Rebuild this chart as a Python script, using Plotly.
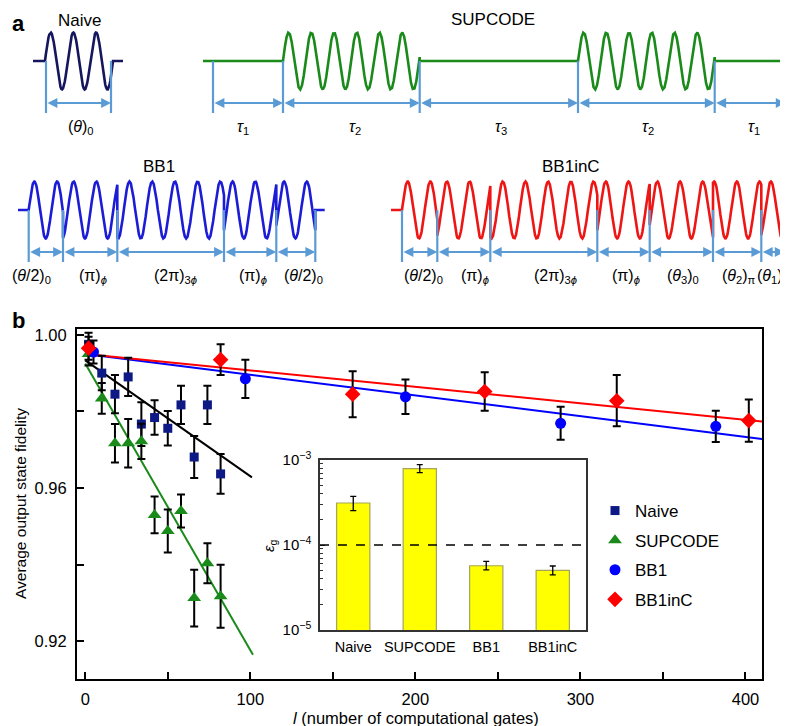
import numpy as np
import plotly.graph_objects as go

# ---------------- Panel b data ----------------
naive_l = [2, 10, 18, 26, 34, 42, 50, 58, 66, 74, 82]
naive_F = [0.9975, 0.9900, 0.9845, 0.9890, 0.9767, 0.9784, 0.9756, 0.9817, 0.9681, 0.9817, 0.9637]
naive_err = [0.0030, 0.0045, 0.0050, 0.0050, 0.0057, 0.0045, 0.0045, 0.0050, 0.0055, 0.0050, 0.0052]

sup_l = [2, 10, 18, 26, 34, 42, 50, 58, 66, 74, 82]
sup_F = [0.9950, 0.9834, 0.9717, 0.9717, 0.9722, 0.9530, 0.9488, 0.9540, 0.9313, 0.9404, 0.9318]
sup_err = [0.0030, 0.0040, 0.0050, 0.0063, 0.0046, 0.0048, 0.0056, 0.0043, 0.0074, 0.0052, 0.0082]

bb1_l = [5, 97, 194, 288, 382]
bb1_F = [0.9955, 0.9885, 0.9838, 0.9769, 0.9761]
bb1_err = [0.0030, 0.0050, 0.0045, 0.0043, 0.0041]

bb1c_l = [2, 82, 162, 242, 322, 402]
bb1c_F = [0.9965, 0.9935, 0.9845, 0.9852, 0.9828, 0.9776]
bb1c_err = [0.0030, 0.0040, 0.0060, 0.0050, 0.0067, 0.0055]

naive_fit_l = [0, 101]
naive_fit_F = [0.9933, 0.9628]
sup_fit_l = [0, 101.6]
sup_fit_F = [0.9925, 0.9165]
bb1_fit_l = [0, 410]
bb1_fit_F = [0.9950, 0.9728]
bb1c_fit_l = [0, 410]
bb1c_fit_F = [0.9950, 0.9774]

x_tickvals = [0, 50, 100, 150, 200, 250, 300, 350, 400]
x_ticktext = ["0", "", "100", "", "200", "", "300", "", "400"]
y_tickvals = [0.92, 0.94, 0.96, 0.98, 1.00]
y_ticktext = ["0.92", "", "0.96", "", "1.00"]

# Inset data
inset_cats = ["Naive", "SUPCODE", "BB1", "BB1inC"]
inset_eps = [3.12e-4, 7.9e-4, 5.7e-5, 5.04e-5]
inset_err_plus = [0.62e-4, 0.9e-4, 0.7e-5, 0.62e-5]
inset_err_minus = [0.58e-4, 0.8e-4, 0.6e-5, 0.6e-5]
threshold = [1e-4]
inset_tickvals = [1e-5, 1e-4, 1e-3]
inset_ticktext = ["10<sup>−5</sup>", "10<sup>−4</sup>", "10<sup>−3</sup>"]
inset_minor = [k * 10.0 ** e for e in (-5, -4) for k in range(2, 10)]

# ---------------- Panel a schematic data ----------------
PHI = 0.54 * np.pi
naive_blocks = [dict(edges=[37, 105], phases=[0])]
naive_flat = (25, 115)
naive_marks = [38, 103]
naive_labels = ["(<i>θ</i>)<sub>0</sub>"]
naive_label_x = [73]

sup_blocks = [dict(edges=[275, 411.7], phases=[0]), dict(edges=[570, 706.7], phases=[0])]
sup_flat = (195, 787)
sup_marks = [205, 275, 411.7, 570, 706.7, 777.7]
sup_labels = ["<i>τ</i><sub>1</sub>", "<i>τ</i><sub>2</sub>", "<i>τ</i><sub>3</sub>",
              "<i>τ</i><sub>2</sub>", "<i>τ</i><sub>1</sub>"]
sup_label_x = [235, 347, 493, 640, 746]

bb1_blocks = [dict(edges=[20.7, 55, 109.3, 216, 268.3, 307.3], phases=[0, PHI, 3 * PHI, PHI, 0])]
bb1_flat = (10, 316.7)
bb1_marks = [20.7, 55, 109.3, 216, 268.3, 307.3]
bb1_labels = ["(<i>θ</i>/2)<sub>0</sub>", "(π)<sub><i>ϕ</i></sub>", "(2π)<sub>3<i>ϕ</i></sub>",
              "(π)<sub><i>ϕ</i></sub>", "(<i>θ</i>/2)<sub>0</sub>"]
bb1_label_x = [23.5, 85, 167, 245, 295]

bb1c_blocks = [dict(edges=[394, 429.3, 482.3, 589.3, 641.7, 705, 753.3, 776.7],
                    phases=[0, PHI, 3 * PHI, PHI, 0, np.pi, 0])]
bb1c_flat = (383, 787)
bb1c_marks = [394, 429.3, 482.3, 589.3, 641.7, 705, 753.3, 776.7]
bb1c_labels = ["(<i>θ</i>/2)<sub>0</sub>", "(π)<sub><i>ϕ</i></sub>", "(2π)<sub>3<i>ϕ</i></sub>",
               "(π)<sub><i>ϕ</i></sub>", "(<i>θ</i><sub>3</sub>)<sub>0</sub>",
               "(<i>θ</i><sub>2</sub>)<sub>π</sub>", "(<i>θ</i><sub>1</sub>)<sub>0</sub>"]
bb1c_label_x = [415, 467, 547, 618, 675, 731, 765]

PERIOD = 22.7
AMP = 28.5

W, H = 788, 726
FONT = "Liberation Sans, Arial, Helvetica, sans-serif"
LB = "#5b9bd5"
NAVY = "#0d1a86"
GREEN = "#1a8a1a"
BLUE = "#0000ff"
RED = "#ff0000"


def px(p):
    return p / W


def py(p):
    return 1 - p / H


def waveform(flat, blocks, yc):
    xs = [flat[0]]
    ys = [yc]
    for blk in blocks:
        e = blk["edges"]
        x0 = e[0]
        xs.append(x0)
        ys.append(yc)
        for a, b, ph in zip(e[:-1], e[1:], blk["phases"]):
            x = np.linspace(a, b, 80)
            xs += x.tolist()
            ys += (yc - AMP * np.sin(2 * np.pi * (x - x0) / PERIOD + ph)).tolist()
        xs.append(e[-1])
        ys.append(yc)
    xs.append(flat[1])
    ys.append(yc)
    return xs, ys


fig = go.Figure()

# ---------------- Panel a ----------------
diagrams = [
    (naive_flat, naive_blocks, naive_marks, naive_labels, naive_label_x, 53, "#16165e", "Naive", 71, 12),
    (sup_flat, sup_blocks, sup_marks, sup_labels, sup_label_x, 53, GREEN, "SUPCODE", 485, 11),
    (bb1_flat, bb1_blocks, bb1_marks, bb1_labels, bb1_label_x, 202, "#1c1cd6", "BB1", 151, 158),
    (bb1c_flat, bb1c_blocks, bb1c_marks, bb1c_labels, bb1c_label_x, 202, "#ee1515", "BB1inC", 563, 158),
]
for flat, blocks, marks, labels, label_x, yc, col, title, tx, ty in diagrams:
    wx, wy = waveform(flat, blocks, yc)
    fig.add_trace(go.Scatter(x=wx, y=wy, mode="lines", line=dict(color=col, width=2.6),
                             xaxis="x3", yaxis="y3", showlegend=False, hoverinfo="skip"))
    vx, vy = [], []
    for m in marks:
        vx += [m, m, None]
        vy += [yc, yc + 52, None]
    fig.add_trace(go.Scatter(x=vx, y=vy, mode="lines", line=dict(color=LB, width=2.2),
                             xaxis="x3", yaxis="y3", showlegend=False, hoverinfo="skip"))
    ya = yc + 42
    for a, b in zip(marks[:-1], marks[1:]):
        fig.add_annotation(x=b, y=ya, ax=a, ay=ya, xref="x3", yref="y3", axref="x3", ayref="y3",
                           text="", showarrow=True, arrowhead=2, startarrowhead=2,
                           arrowside="end+start", arrowsize=1.1, arrowwidth=1.8, arrowcolor=LB,
                           standoff=0, startstandoff=0)
    for lab, lx in zip(labels, label_x):
        fig.add_annotation(x=lx, y=yc + 66, xref="x3", yref="y3", text=lab, showarrow=False,
                           xanchor="center", yanchor="middle",
                           font=dict(family=FONT, size=16, color="black"))
    fig.add_annotation(x=tx, y=ty, xref="x3", yref="y3", text=title, showarrow=False,
                       xanchor="center", yanchor="middle",
                       font=dict(family=FONT, size=17, color="black"))

# ---------------- Panel b main ----------------
fits = [(naive_fit_l, naive_fit_F, "black"), (sup_fit_l, sup_fit_F, GREEN),
        (bb1_fit_l, bb1_fit_F, BLUE), (bb1c_fit_l, bb1c_fit_F, RED)]
for fl, fF, c in fits:
    fig.add_trace(go.Scatter(x=fl, y=fF, mode="lines", line=dict(color=c, width=2),
                             showlegend=False, hoverinfo="skip"))

series = [
    ("Naive", naive_l, naive_F, naive_err, "square", NAVY, 9),
    ("SUPCODE", sup_l, sup_F, sup_err, "triangle-up", GREEN, 12),
    ("BB1", bb1_l, bb1_F, bb1_err, "circle", BLUE, 11),
    ("BB1inC", bb1c_l, bb1c_F, bb1c_err, "diamond", RED, 12),
]
for i, (name, l, F, e, sym, col, sz) in enumerate(series):
    fig.add_trace(go.Scatter(
        x=l, y=F, mode="markers", name=name, legendgroup=name,
        marker=dict(symbol=sym, color=col, size=sz, line=dict(width=0)),
        error_y=dict(type="data", array=e, visible=True, color="black", thickness=2, width=4),
    ))

# ---------------- Inset ----------------
fig.add_trace(go.Bar(
    x=inset_cats, y=inset_eps, xaxis="x2", yaxis="y2", showlegend=False,
    marker=dict(color="#ffff00", line=dict(color="#a5a55a", width=1.2)),
    error_y=dict(type="data", array=inset_err_plus, arrayminus=inset_err_minus, symmetric=False,
                 color="black", thickness=1.3, width=3),
    width=0.5,
))
for t in threshold:
    fig.add_shape(type="line", xref="x2 domain", yref="y2", x0=0, x1=1, y0=t, y1=t,
                  line=dict(color="black", width=1.5, dash="dash"))

fig.update_layout(
    width=W, height=H, autosize=False,
    margin=dict(l=0, r=0, t=0, b=0),
    paper_bgcolor="white", plot_bgcolor="rgba(0,0,0,0)",
    font=dict(family=FONT, color="black"),
    showlegend=True,
    legend=dict(x=px(587), y=py(485), xanchor="left", yanchor="top",
                font=dict(family=FONT, size=17), bgcolor="rgba(0,0,0,0)",
                tracegroupgap=4.5, itemclick=False),
    xaxis=dict(domain=[px(69), px(754)], range=[-5, 410], tickvals=x_tickvals, ticktext=x_ticktext,
               ticks="inside", ticklen=7, tickwidth=2, tickcolor="black",
               showline=True, linecolor="black", linewidth=2, mirror=True,
               showgrid=False, zeroline=False, tickfont=dict(size=16.5), ticklabelstandoff=4,
               automargin=False, anchor="y"),
    yaxis=dict(domain=[py(671), py(321)], range=[0.9102, 1.0015], tickvals=y_tickvals, ticktext=y_ticktext,
               ticks="inside", ticklen=7, tickwidth=2, tickcolor="black",
               showline=True, linecolor="black", linewidth=2, mirror=True,
               showgrid=False, zeroline=False, tickfont=dict(size=16.5), ticklabelstandoff=5,
               automargin=False, anchor="x"),
    xaxis2=dict(domain=[px(312), px(578)], range=[-0.5, 3.5], anchor="y2",
                showline=True, linecolor="#333333", linewidth=1.5, mirror=True,
                ticks="", showgrid=False, zeroline=False, tickfont=dict(size=14.5),
                ticklabelstandoff=3, automargin=False),
    yaxis2=dict(domain=[py(622), py(452)], type="log", range=[-5, -3], anchor="x2",
                tickvals=inset_tickvals, ticktext=inset_ticktext, ticks="inside", ticklen=5,
                tickwidth=1, tickcolor="#333333",
                minor=dict(tickvals=inset_minor, ticks="inside", ticklen=3, tickcolor="#333333", tickwidth=1),
                showline=True, linecolor="#333333", linewidth=1.5, mirror=True,
                showgrid=False, zeroline=False, tickfont=dict(size=15), ticklabelstandoff=4,
                automargin=False),
    xaxis3=dict(domain=[0, 1], range=[0, W], visible=False, anchor="y3", fixedrange=True),
    yaxis3=dict(domain=[py(295), 1], range=[295, 0], visible=False, anchor="x3", fixedrange=True),
    bargap=0.5,
)

# Titles and panel letters
fig.add_annotation(x=px(408), y=py(710), xref="paper", yref="paper", showarrow=False,
                   xanchor="center", yanchor="middle",
                   text="<i>l</i> (number of computational gates)",
                   font=dict(family=FONT, size=16.5))
fig.add_annotation(x=px(12), y=py(496), xref="paper", yref="paper", showarrow=False, textangle=-90,
                   xanchor="center", yanchor="middle",
                   text="Average output state fidelity", font=dict(family=FONT, size=15.5))
fig.add_annotation(x=px(261), y=py(538), xref="paper", yref="paper", showarrow=False, textangle=-90,
                   xanchor="center", yanchor="middle",
                   text="<i>ε</i><sub>g</sub>", font=dict(family=FONT, size=15))
fig.add_annotation(x=px(2), y=py(1), xref="paper", yref="paper", xanchor="left", yanchor="top",
                   showarrow=False, text="<b>a</b>", font=dict(family=FONT, size=22))
fig.add_annotation(x=px(2), y=py(298), xref="paper", yref="paper", xanchor="left", yanchor="top",
                   showarrow=False, text="<b>b</b>", font=dict(family=FONT, size=22))

fig.write_html("out.html")
